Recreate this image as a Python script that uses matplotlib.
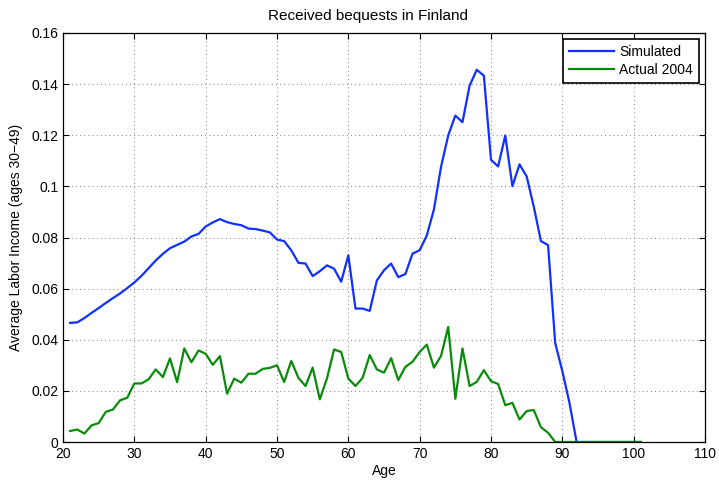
import matplotlib
matplotlib.use("Agg")
import matplotlib.pyplot as plt
import numpy as np

plt.rcParams['font.family'] = ['Liberation Sans', 'DejaVu Sans']

ages = list(range(21, 102))

simulated = [
    0.0466, 0.0468, 0.0485, 0.0505, 0.0524, 0.0544, 0.0563, 0.0581, 0.0602, 0.0624,  # 21-30
    0.0650, 0.0680, 0.0710, 0.0736, 0.0758, 0.0771, 0.0784, 0.0804, 0.0814, 0.0843,  # 31-40
    0.0859, 0.0872, 0.0860, 0.0853, 0.0848, 0.0835, 0.0833, 0.0827, 0.0820, 0.0792,  # 41-50
    0.0786, 0.0750, 0.0701, 0.0698, 0.0649, 0.0668, 0.0691, 0.0678, 0.0627, 0.0730,  # 51-60
    0.0522, 0.0522, 0.0513, 0.0632, 0.0672, 0.0698, 0.0645, 0.0657, 0.0737, 0.0750,  # 61-70
    0.0808, 0.0910, 0.1077, 0.1199, 0.1277, 0.1251, 0.1394, 0.1456, 0.1433, 0.1104,  # 71-80
    0.1078, 0.1199, 0.1001, 0.1086, 0.1039, 0.0920, 0.0786, 0.0770, 0.0387, 0.0277,  # 81-90
    0.0153, 0.0, 0.0, 0.0, 0.0, 0.0, 0.0, 0.0, 0.0, 0.0, 0.0,                          # 91-101
]

actual_2004 = [
    0.0043, 0.0049, 0.0033, 0.0065, 0.0074, 0.0118, 0.0127, 0.0163, 0.0173, 0.0229,  # 21-30
    0.0229, 0.0245, 0.0284, 0.0254, 0.0327, 0.0234, 0.0366, 0.0312, 0.0358, 0.0345,  # 31-40
    0.0302, 0.0336, 0.0189, 0.0248, 0.0232, 0.0267, 0.0267, 0.0286, 0.0290, 0.0300,  # 41-50
    0.0235, 0.0317, 0.0251, 0.0219, 0.0291, 0.0167, 0.0248, 0.0362, 0.0352, 0.0248,  # 51-60
    0.0219, 0.0251, 0.0340, 0.0284, 0.0271, 0.0328, 0.0242, 0.0294, 0.0314, 0.0352,  # 61-70
    0.0381, 0.0291, 0.0337, 0.0450, 0.0169, 0.0366, 0.0219, 0.0235, 0.0281, 0.0238,  # 71-80
    0.0227, 0.0144, 0.0153, 0.0088, 0.0121, 0.0125, 0.0058, 0.0036, 0.0, 0.0,        # 81-90
    0.0, 0.0, 0.0, 0.0, 0.0, 0.0, 0.0, 0.0, 0.0, 0.0, 0.0,                           # 91-101
]

xticks = [20, 30, 40, 50, 60, 70, 80, 90, 100, 110]
yticks = [0, 0.02, 0.04, 0.06, 0.08, 0.1, 0.12, 0.14, 0.16]
ytick_labels = ["0", "0.02", "0.04", "0.06", "0.08", "0.1", "0.12", "0.14", "0.16"]

fig = plt.figure(figsize=(7.19, 4.80), dpi=100)
ax = fig.add_axes([63/719, 1 - 442/480, (705 - 63)/719, (442 - 33)/480])

ax.plot(ages, simulated, color='#1030ff', lw=1.6, label='Simulated')
ax.plot(ages, actual_2004, color='#0a8a0a', lw=1.6, label='Actual 2004')

ax.set_xlim(20, 110)
ax.set_ylim(0, 0.16)
ax.set_xticks(xticks)
ax.set_xticklabels([str(t) for t in xticks])
ax.set_yticks(yticks)
ax.set_yticklabels(ytick_labels)
ax.tick_params(direction='in', top=True, right=True, labelsize=10, length=4, width=0.8)
ax.grid(True, linestyle=(0, (1, 4)), color='#555555', linewidth=0.6)
for s in ax.spines.values():
    s.set_linewidth(0.9)

fig.text(368/719, 1 - 16/480, 'Received bequests in Finland', fontsize=11,
         ha='center', va='center')
ax.set_xlabel('Age', fontsize=10, labelpad=2)
ax.set_ylabel('Average Labor Income (ages 30\u221249)', fontsize=10, labelpad=6)

leg = ax.legend(loc='upper right', fontsize=10, fancybox=False, framealpha=1,
                edgecolor='black', borderaxespad=0.4, handlelength=3.2,
                borderpad=0.45, labelspacing=0.3, handletextpad=0.4)
leg.get_frame().set_linewidth(1.2)

fig.savefig('out.png', dpi=100)
